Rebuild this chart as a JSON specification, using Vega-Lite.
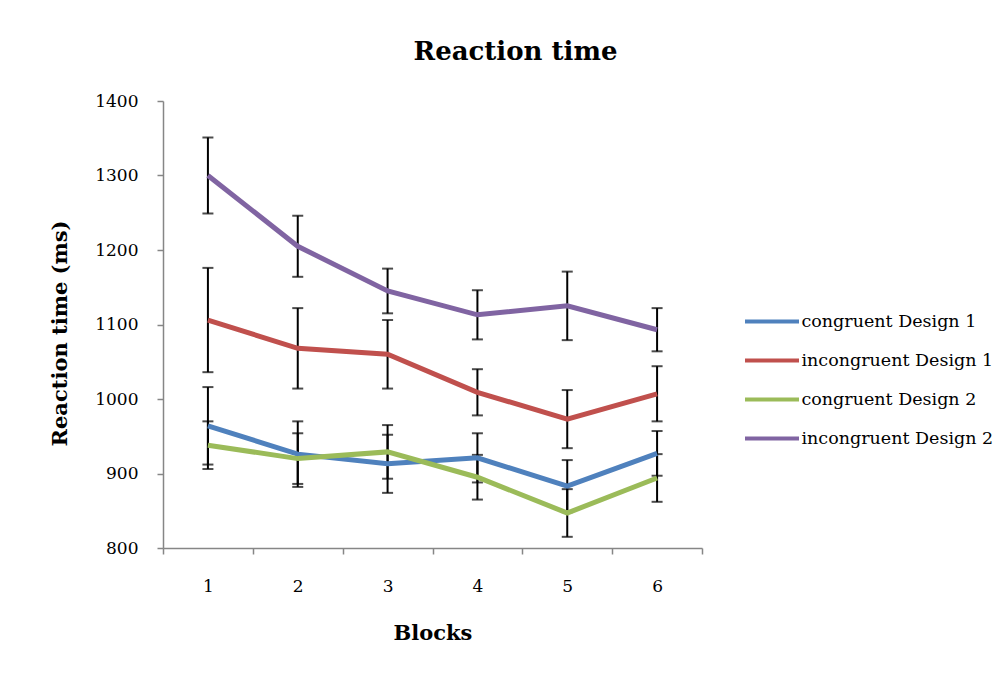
{
  "$schema": "https://vega.github.io/schema/vega-lite/v6.json",
  "width": 539,
  "height": 447,
  "autosize": {"type": "none"},
  "padding": {"left": 163, "top": 101, "right": 306, "bottom": 125},
  "background": "white",
  "title": {"text": "Reaction time", "font": "DejaVu Serif", "fontSize": 26, "fontWeight": "bold", "anchor": "middle", "frame": "group", "dx": 83, "offset": 27, "color": "black"},
  "data": {
    "values": [
      {"block": "1", "cond": "congruent Design 1", "rt": 964, "err": 52},
      {"block": "2", "cond": "congruent Design 1", "rt": 926, "err": 44},
      {"block": "3", "cond": "congruent Design 1", "rt": 913, "err": 39},
      {"block": "4", "cond": "congruent Design 1", "rt": 921, "err": 33},
      {"block": "5", "cond": "congruent Design 1", "rt": 883, "err": 35},
      {"block": "6", "cond": "congruent Design 1", "rt": 927, "err": 30},
      {"block": "1", "cond": "incongruent Design 1", "rt": 1106, "err": 70},
      {"block": "2", "cond": "incongruent Design 1", "rt": 1068, "err": 54},
      {"block": "3", "cond": "incongruent Design 1", "rt": 1060, "err": 46},
      {"block": "4", "cond": "incongruent Design 1", "rt": 1009, "err": 31},
      {"block": "5", "cond": "incongruent Design 1", "rt": 973, "err": 39},
      {"block": "6", "cond": "incongruent Design 1", "rt": 1007, "err": 37},
      {"block": "1", "cond": "congruent Design 2", "rt": 938, "err": 32},
      {"block": "2", "cond": "congruent Design 2", "rt": 920, "err": 34},
      {"block": "3", "cond": "congruent Design 2", "rt": 929, "err": 36},
      {"block": "4", "cond": "congruent Design 2", "rt": 895, "err": 30},
      {"block": "5", "cond": "congruent Design 2", "rt": 847, "err": 32},
      {"block": "6", "cond": "congruent Design 2", "rt": 894, "err": 32},
      {"block": "1", "cond": "incongruent Design 2", "rt": 1300, "err": 51},
      {"block": "2", "cond": "incongruent Design 2", "rt": 1205, "err": 41},
      {"block": "3", "cond": "incongruent Design 2", "rt": 1145, "err": 30},
      {"block": "4", "cond": "incongruent Design 2", "rt": 1113, "err": 33},
      {"block": "5", "cond": "incongruent Design 2", "rt": 1125, "err": 46},
      {"block": "6", "cond": "incongruent Design 2", "rt": 1093, "err": 29}
    ]
  },
  "encoding": {
    "x": {
      "field": "block", "type": "ordinal",
      "scale": {"type": "band", "paddingInner": 0, "paddingOuter": 0},
      "axis": {
        "title": "Blocks",
        "tickBand": "extent",
        "grid": false,
        "labelAngle": 0,
        "domainColor": "#868686",
        "domainWidth": 1.5,
        "tickColor": "#868686",
        "tickWidth": 1.5,
        "tickSize": 6,
        "labelFont": "DejaVu Serif",
        "labelFontSize": 17,
        "labelColor": "black",
        "labelPadding": 24,
        "titleFont": "DejaVu Serif",
        "titleFontSize": 21,
        "titleFontWeight": "bold",
        "titleColor": "black",
        "titleY": 85,
        "titleBaseline": "middle"
      }
    },
    "y": {
      "field": "rt", "type": "quantitative",
      "scale": {"domain": [800, 1400], "nice": false, "zero": false},
      "axis": {
        "title": "Reaction time (ms)",
        "values": [800, 900, 1000, 1100, 1200, 1300, 1400],
        "format": "d",
        "grid": false,
        "domainColor": "#868686",
        "domainWidth": 1.5,
        "tickColor": "#868686",
        "tickWidth": 1.5,
        "tickSize": 6,
        "labelFont": "DejaVu Serif",
        "labelFontSize": 17,
        "labelColor": "black",
        "labelPadding": 19,
        "titleFont": "DejaVu Serif",
        "titleFontSize": 21,
        "titleFontWeight": "bold",
        "titleColor": "black",
        "titleX": -103,
        "titleY": 232,
        "titleBaseline": "middle",
        "titleAlign": "center"
      }
    }
  },
  "layer": [
    {
      "mark": {"type": "errorbar", "ticks": {"size": 11, "thickness": 2, "color": "black"}, "rule": {"strokeWidth": 2, "color": "black"}, "color": "black"},
      "encoding": {
        "yError": {"field": "err"}
      }
    },
    {
      "mark": {"type": "line", "strokeWidth": 5},
      "encoding": {
        "color": {
          "field": "cond", "type": "nominal",
          "scale": {"domain": ["congruent Design 1", "incongruent Design 1", "congruent Design 2", "incongruent Design 2"], "range": ["#4F81BD", "#C0504D", "#9BBB59", "#8064A2"]},
          "legend": {
            "title": null,
            "orient": "none",
            "legendX": 593.5,
            "legendY": 205,
            "padding": 0,
            "symbolType": "M-2,0H2",
            "symbolSize": 729,
            "symbolStrokeWidth": 4,
            "labelOffset": 14,
            "rowPadding": 15,
            "labelFont": "DejaVu Serif",
            "labelFontSize": 17.5,
            "labelColor": "black",
            "labelLimit": 300
          }
        }
      }
    }
  ],
  "config": {"view": {"stroke": null}}
}
